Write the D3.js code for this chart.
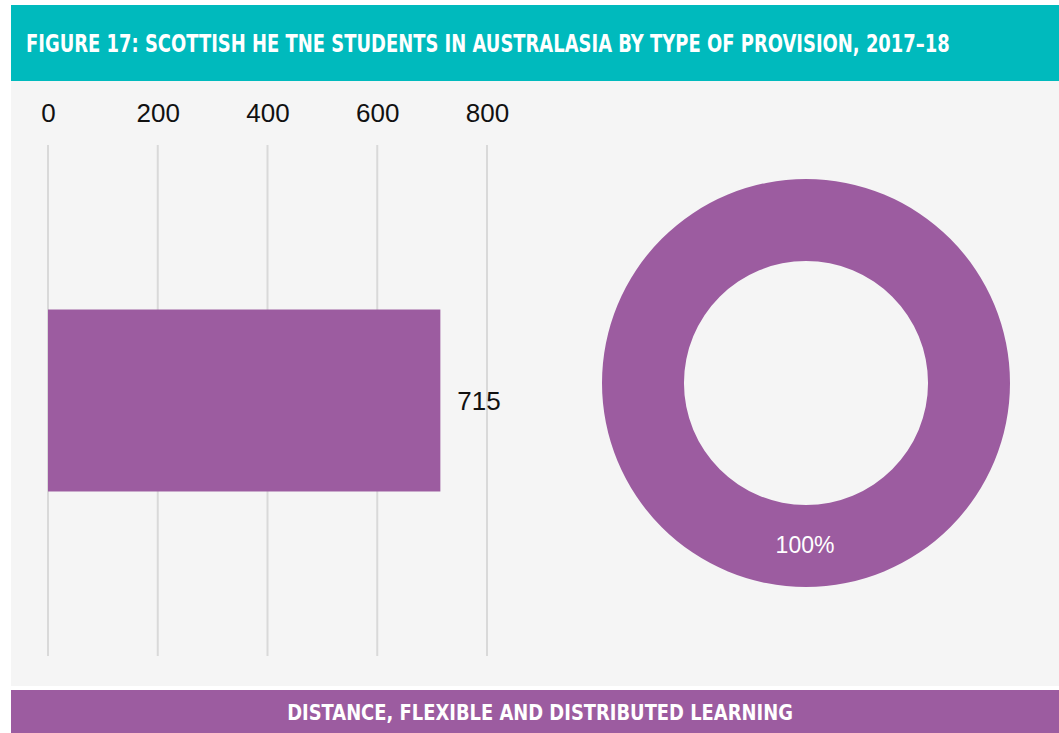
<!DOCTYPE html>
<html>
<head>
<meta charset="utf-8">
<script src="https://cdn.jsdelivr.net/npm/d3@7"></script>
<style>
  html, body { margin: 0; padding: 0; background: #ffffff; }
  svg { display: block; }
</style>
</head>
<body>
<svg id="chart" width="1059" height="733"></svg>
<script>
// Data
const titleText = "FIGURE 17: SCOTTISH HE TNE STUDENTS IN AUSTRALASIA BY TYPE OF PROVISION, 2017\u201318";
const categories = ["Distance, flexible and distributed learning"];
const footerLabels = ["DISTANCE, FLEXIBLE AND DISTRIBUTED LEARNING"];
const students = [715];
const shares = [100];
const axisTicks = [0, 200, 400, 600, 800];

const purple = "#9C5CA0";
const teal = "#00BABD";
const condensed = "'DejaVu Sans Condensed', 'Liberation Sans Narrow', sans-serif";
const sans = "'Liberation Sans', Arial, sans-serif";

const svg = d3.select("#chart");

// Squeeze a condensed heading horizontally so it spans the given width
function narrowText(sel, width, anchorX, baseline, centred) {
  const natural = sel.node().getComputedTextLength();
  const sx = Math.min(1, width / natural);
  sel.attr("x", 0).attr("y", 0)
    .attr("text-anchor", centred ? "middle" : "start")
    .attr("transform", `translate(${anchorX},${baseline}) scale(${sx},1)`);
}

// Header band
svg.append("rect").attr("x", 11).attr("y", 5).attr("width", 1048).attr("height", 76).attr("fill", teal);
const title = svg.append("text")
  .attr("fill", "#ffffff")
  .attr("font-family", condensed)
  .attr("font-weight", "bold")
  .attr("font-size", 25)
  .text(titleText);
narrowText(title, 924, 26, 52, false);

// Panel background
svg.append("rect").attr("x", 11).attr("y", 81).attr("width", 1048).attr("height", 605).attr("fill", "#F5F5F5");

// Bar chart
const x = d3.scaleLinear().domain([0, 800]).range([48, 487]);
const y = d3.scaleBand().domain(categories).range([145, 656]).paddingInner(0).paddingOuter(0.904);

const axis = d3.axisTop(x).tickValues(axisTicks).tickSize(0).tickPadding(0).tickFormat(d3.format("d"));
const gAxis = svg.append("g").attr("transform", "translate(0,122)").call(axis);
gAxis.select(".domain").remove();
gAxis.selectAll("text")
  .attr("font-family", sans)
  .attr("font-size", 26)
  .attr("fill", "#111111");

svg.append("g").selectAll("line").data(axisTicks).join("line")
  .attr("x1", d => x(d)).attr("x2", d => x(d))
  .attr("y1", 145).attr("y2", 656)
  .attr("stroke", "#D9D9D9").attr("stroke-width", 2);

svg.append("g").selectAll("rect").data(students).join("rect")
  .attr("x", x(0))
  .attr("y", (d, i) => y(categories[i]))
  .attr("width", d => x(d) - x(0))
  .attr("height", y.bandwidth())
  .attr("fill", purple);

svg.append("g").selectAll("text").data(students).join("text")
  .attr("x", d => x(d) + 17)
  .attr("y", (d, i) => y(categories[i]) + y.bandwidth() / 2 + 9)
  .attr("font-family", sans)
  .attr("font-size", 26)
  .attr("fill", "#111111")
  .text(d => d);

// Donut chart
const cx = 806, cy = 383;
const pie = d3.pie().sort(null);
const arc = d3.arc().innerRadius(122).outerRadius(204);
const gDonut = svg.append("g").attr("transform", `translate(${cx},${cy})`);
const arcs = pie(shares);
gDonut.selectAll("path").data(arcs).join("path").attr("d", arc).attr("fill", purple);
gDonut.selectAll("text").data(arcs).join("text")
  .attr("x", -1)
  .attr("y", 170)
  .attr("text-anchor", "middle")
  .attr("font-family", sans)
  .attr("font-size", 23)
  .attr("fill", "#ffffff")
  .text(d => d.data + "%");

// Footer band
svg.append("rect").attr("x", 11).attr("y", 690).attr("width", 1048).attr("height", 43).attr("fill", purple);
const footer = svg.append("text")
  .attr("fill", "#ffffff")
  .attr("font-family", condensed)
  .attr("font-weight", "bold")
  .attr("font-size", 21)
  .text(footerLabels[0]);
narrowText(footer, 506, 540, 720, true);
</script>
</body>
</html>
